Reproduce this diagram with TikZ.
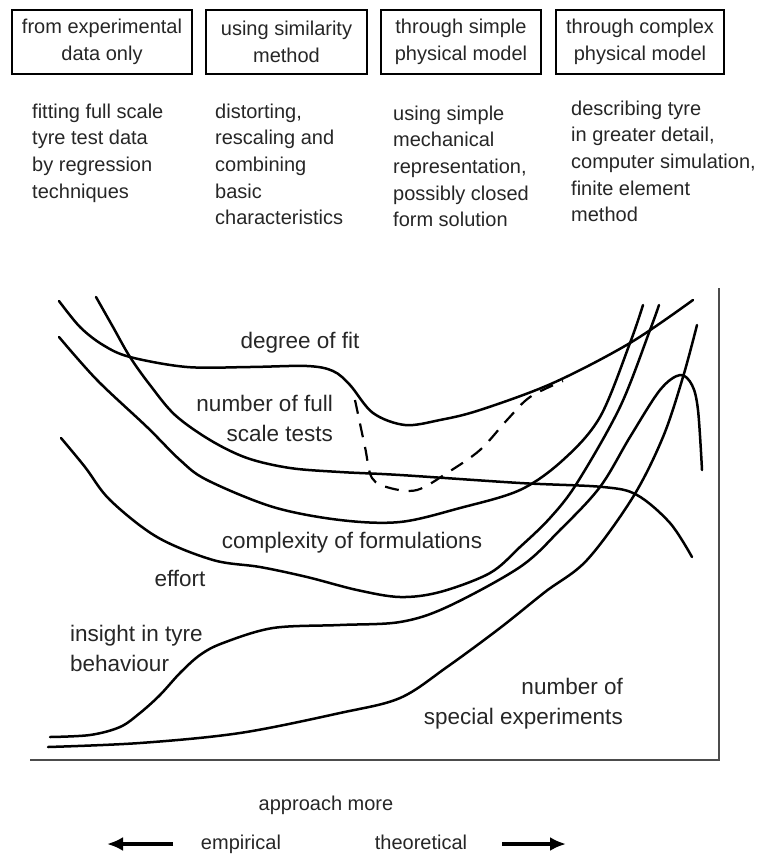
\documentclass[tikz,border=0pt]{standalone}
\usepackage{fontspec}
\setmainfont{Liberation Sans}
\usetikzlibrary{arrows.meta}
\begin{document}
\begin{tikzpicture}[x=1pt,y=-1pt,
  box/.style={draw, line width=1.5pt, inner sep=0pt, minimum height=64pt, align=center, text=black!85, font=\fontsize{20}{26.5}\selectfont},
  desc/.style={anchor=north west, inner sep=0pt, align=left, text=black!85, font=\fontsize{20}{26.7}\selectfont},
  lbl/.style={inner sep=0pt, text=black!85, font=\fontsize{22.5}{30}\selectfont},
  curve/.style={line width=2.5pt, line cap=round, line join=round},
  dashcurve/.style={line width=2.2pt, dash pattern=on 14pt off 10pt},
  frameline/.style={draw=black!70, line width=1.5pt},
  bottomtxt/.style={inner sep=0pt, anchor=base, text=black!85, font=\fontsize{20}{24}\selectfont},
  bigarrow/.style={line width=4.5pt, -{Latex[length=16pt,width=14pt]}}
]
\useasboundingbox (0,0) rectangle (758,854);

% header boxes
\node[box, minimum width=180pt] (b1) at (102,42) {from experimental\\data only};
\node[box, minimum width=161pt] (b2) at (286.5,42) {using similarity\\method};
\node[box, minimum width=160pt] (b3) at (461,42) {through simple\\physical model};
\node[box, minimum width=168pt] (b4) at (640,42) {through complex\\physical model};

% descriptions
\node[desc] (d1) at (32,103.5) {fitting full scale\\tyre test data\\by regression\\techniques};
\node[desc] (d2) at (215,103.5) {distorting,\\rescaling and\\combining\\basic\\characteristics};
\node[desc] (d3) at (393,105.5) {using simple\\mechanical\\representation,\\possibly closed\\form solution};
\node[desc] (d4) at (571,100.5) {describing tyre\\in greater detail,\\computer simulation,\\finite element\\method};

% frame (bottom and right sides)
\coordinate (f1) at (30,760);
\coordinate (f2) at (719,760);
\coordinate (f3) at (719,288);
\draw[frameline] (f1) -- (f2) -- (f3);

% degree of fit
\draw[curve] plot[smooth, tension=0.55] coordinates {(59,301) (80,327) (103,345) (130,357) (187,367) (250,367) (307,366) (333,371) (350,385) (373,413) (405,425) (440,420) (480,410) (553,383) (630,343) (693,300)};
% number of full scale tests
\draw[curve] plot[smooth, tension=0.55] coordinates {(96,297) (113,327) (130,357) (150,385) (175,415) (210,440) (247,458) (290,468) (340,472) (400,475) (520,483) (603,487) (637,495) (670,523) (692,557)};
% complexity of formulations
\draw[curve] plot[smooth, tension=0.55] coordinates {(59,337) (97,380) (147,427) (180,460) (207,480) (273,507) (340,520) (400,522) (460,508) (520,490) (563,460) (600,417) (630,343) (643,305)};
% effort
\draw[curve] plot[smooth, tension=0.55] coordinates {(61,438) (85,467) (110,500) (157,537) (213,560) (260,567) (307,577) (357,590) (400,597) (440,592) (490,573) (520,547) (550,518) (577,483) (620,407) (650,330) (659,305)};
% insight in tyre behaviour
\draw[curve] plot[smooth, tension=0.55] coordinates {(50,737) (90,735) (120,727) (140,713) (160,695) (180,673) (200,655) (223,643) (273,628) (340,625) (400,622) (447,607) (520,567) (560,530) (600,487) (630,437) (660,390) (680,375) (692,385) (698,410) (702,470)};
% number of special experiments
\draw[curve] plot[smooth, tension=0.55] coordinates {(48,747) (140,743) (240,733) (340,713) (400,698) (447,667) (500,628) (545,592) (587,560) (633,497) (663,437) (683,377) (697,325)};
% dashed
\draw[dashcurve] plot[smooth, tension=0.55] coordinates {(355,400) (365,447) (372,478) (390,488) (417,490) (447,473) (480,450) (507,420) (530,397) (563,381)};

% curve labels
\node[lbl] (l1) at (300,343) {degree of fit};
\node[lbl, align=right, anchor=east] (l2) at (333,418) {number of full\\scale tests};
\node[lbl] (l3) at (352,543) {complexity of formulations};
\node[lbl] (l4) at (180,578) {effort};
\node[lbl, align=left, anchor=west] (l5) at (70,648) {insight in tyre\\behaviour};
\node[lbl, align=right, anchor=east] (l6) at (623,704) {number of\\special experiments};

% bottom
\node[bottomtxt] (t1) at (326,810) {approach more};
\node[bottomtxt] (t2) at (241,849) {empirical};
\node[bottomtxt] (t3) at (421,849) {theoretical};
\coordinate (la1) at (173,844);
\coordinate (la2) at (107,844);
\coordinate (ra1) at (502,844);
\coordinate (ra2) at (566,844);
\draw[bigarrow] (la1) -- (la2);
\draw[bigarrow] (ra1) -- (ra2);
\end{tikzpicture}
\end{document}
